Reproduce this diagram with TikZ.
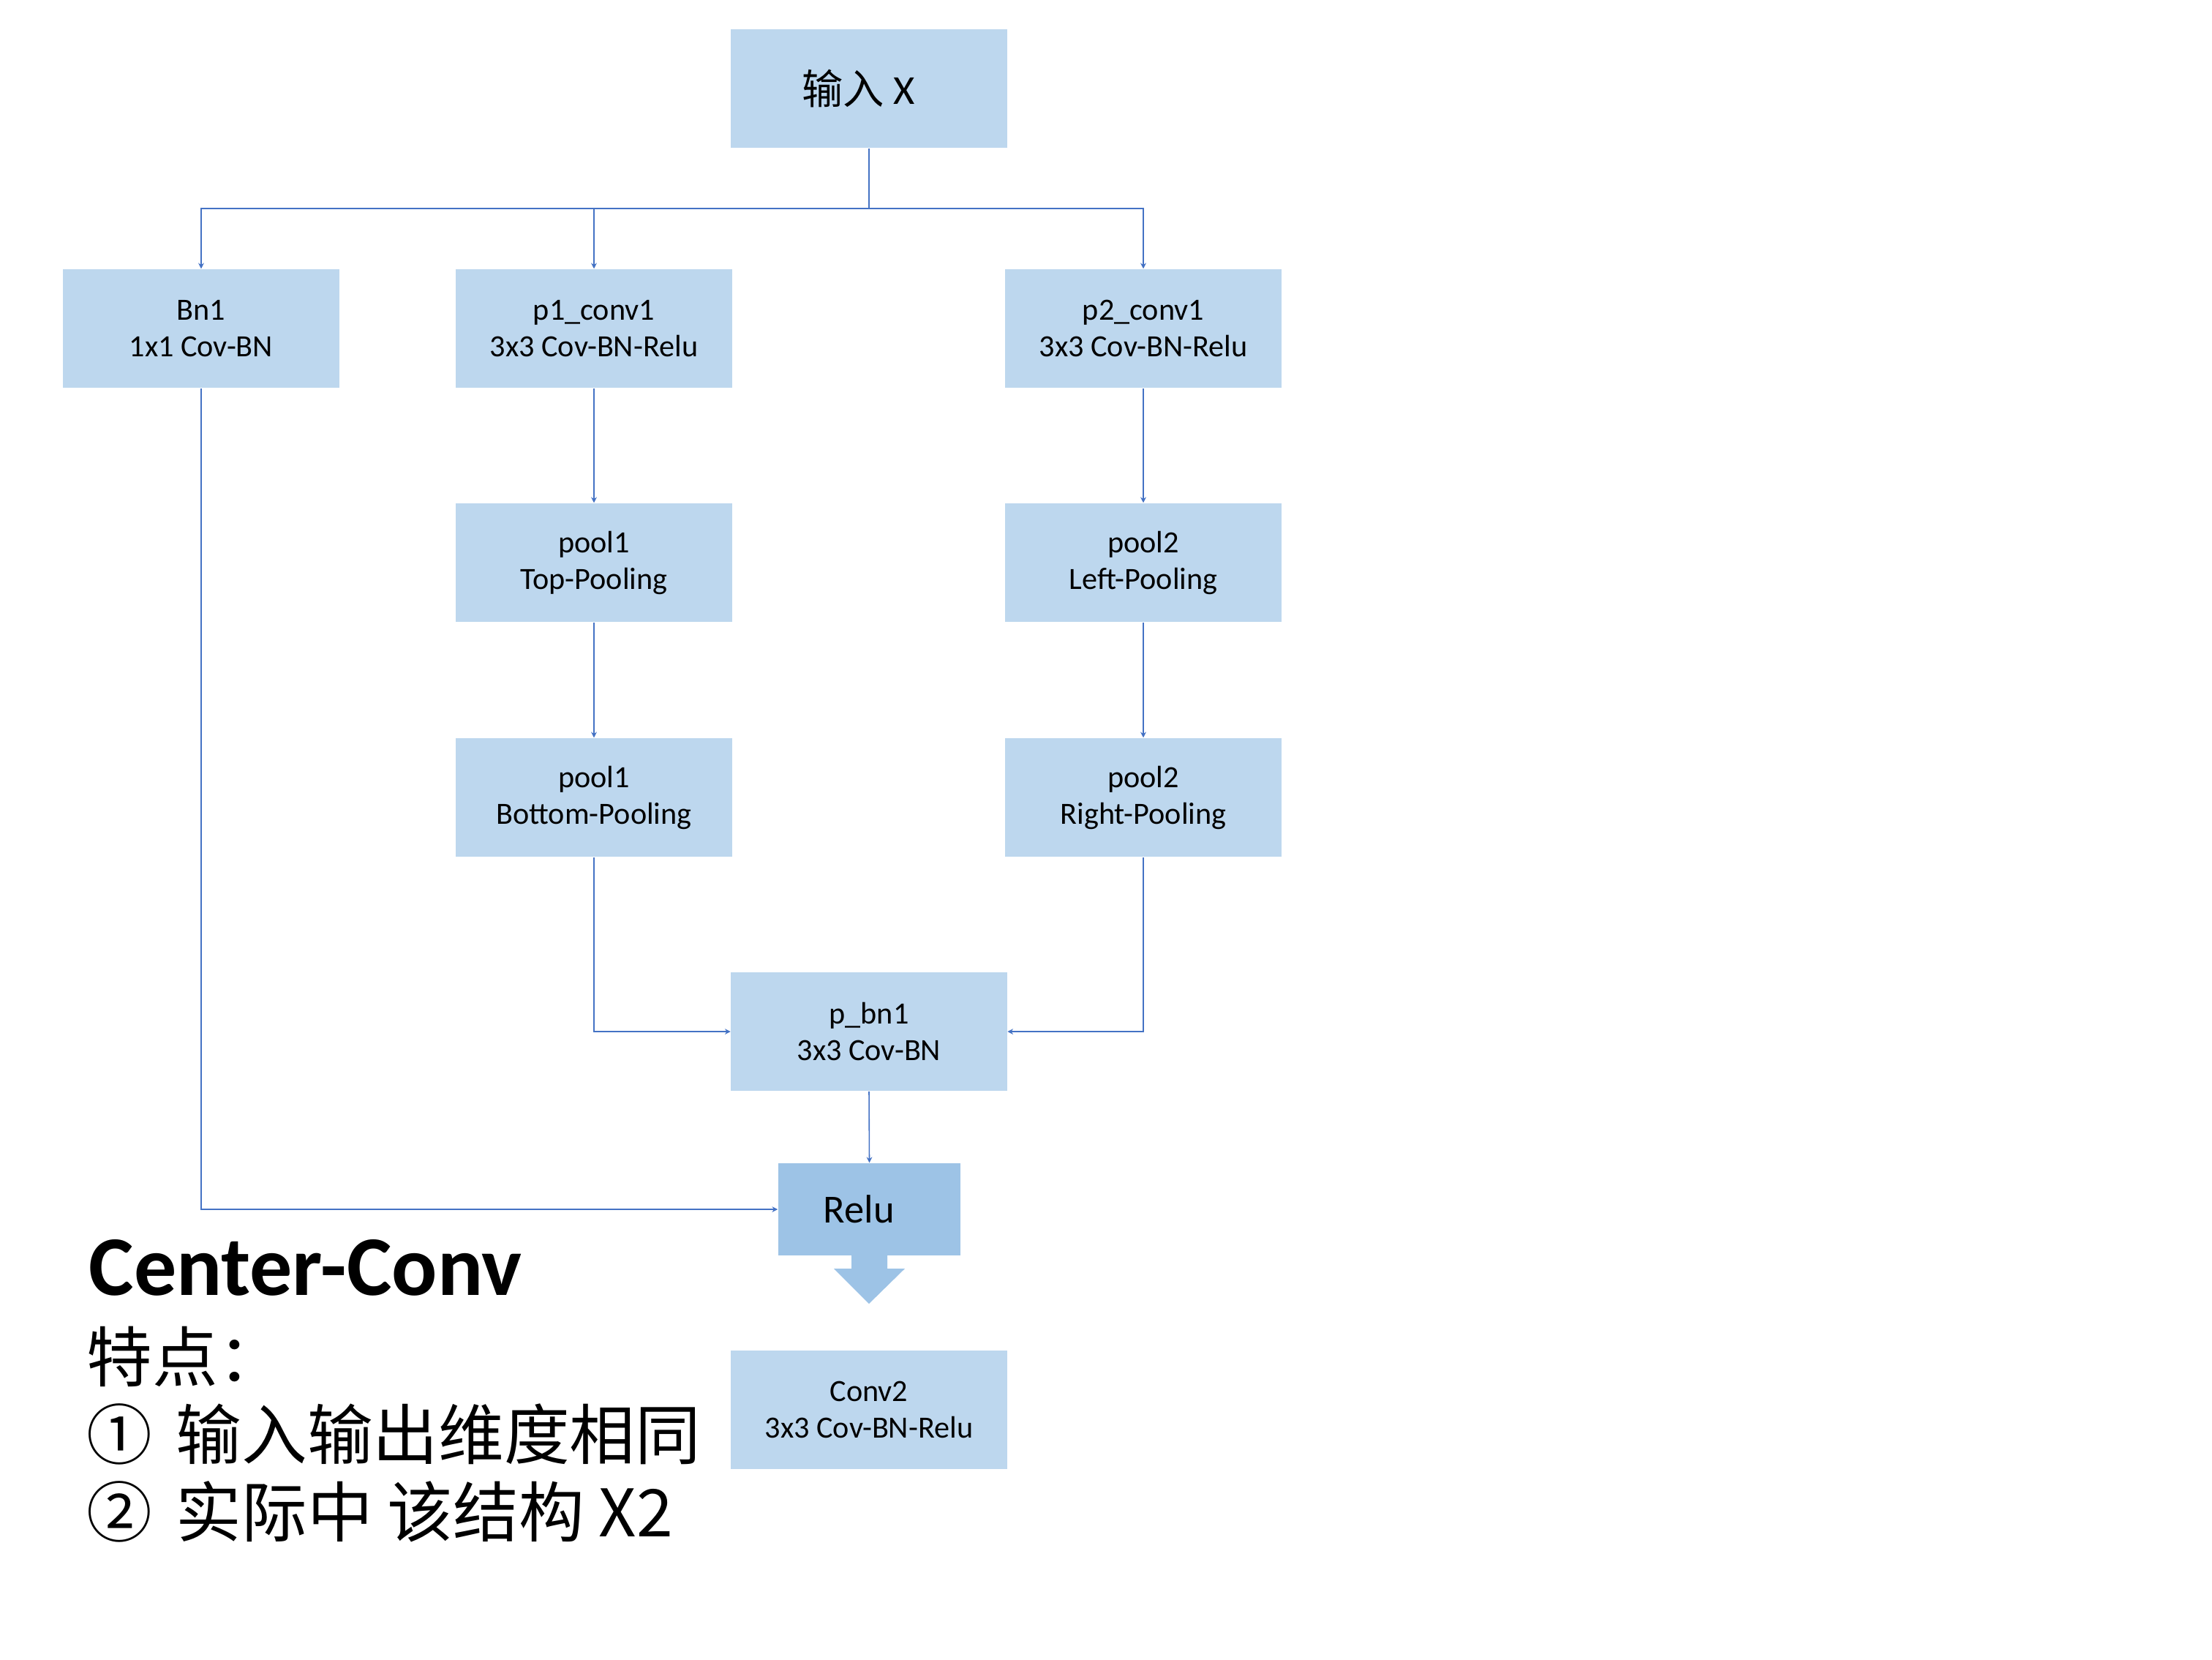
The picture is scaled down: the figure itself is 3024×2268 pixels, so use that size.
\documentclass[tikz,border=0pt]{standalone}
\usepackage{fontspec}
\usetikzlibrary{arrows.meta}
\setmainfont{Carlito}
\newfontfamily\cjk{Noto Sans CJK SC}
\definecolor{boxblue}{HTML}{BDD7EE}
\definecolor{relublue}{HTML}{9DC3E6}
\definecolor{linkblue}{HTML}{4472C4}
\begin{document}
\begin{tikzpicture}[x=0.01cm,y=-0.01cm,
  blk/.style={fill=boxblue,minimum width=3.77cm,minimum height=1.62cm,inner sep=0pt,align=center,font=\fontsize{12}{14.2}\selectfont},
  link/.style={draw=linkblue,line width=0.45pt},
  arr/.style={link,-{Stealth[length=2.2pt,width=2.2pt]}},
  note/.style={anchor=base west,inner sep=0pt,font=\fontsize{25.5}{30}\selectfont\cjk}]
\useasboundingbox (0,0) rectangle (3024,2268);
\node[blk,font=\fontsize{16}{19}\selectfont] (in) at (1188,121) {{\cjk 输入} X\hspace{8pt}};
\node[blk] (bn1) at (275,449) {Bn1\\1x1 Cov-BN};
\node[blk] (p1c) at (812,449) {p1\_conv1\\3x3 Cov-BN-Relu};
\node[blk] (p2c) at (1563,449) {p2\_conv1\\3x3 Cov-BN-Relu};
\node[blk] (pool1) at (812,769) {pool1\\Top-Pooling};
\node[blk] (pool2) at (1563,769) {pool2\\Left-Pooling};
\node[blk] (pool1b) at (812,1090) {pool1\\Bottom-Pooling};
\node[blk] (pool2b) at (1563,1090) {pool2\\Right-Pooling};
\node[blk] (pbn) at (1188,1410) {p\_bn1\\3x3 Cov-BN};
\node[blk,fill=relublue,minimum width=2.49cm,minimum height=1.26cm,font=\fontsize{15.5}{18}\selectfont] (relu) at (1188.5,1653) {Relu\hspace{8pt}};
\node[blk] (conv2) at (1188,1927) {Conv2\\3x3 Cov-BN-Relu};
\fill[relublue] (1164,1715) -- (1213,1715) -- (1213,1734) -- (1237,1734) -- (1188,1782) -- (1140,1734) -- (1164,1734) -- cycle;
\coordinate (split) at (1188,285);
\draw[link] (in.south) -- (split);
\draw[arr] (split) -| (bn1.north);
\draw[arr] (split) -| (p1c.north);
\draw[arr] (split) -| (p2c.north);
\draw[arr] (p1c) -- (pool1);
\draw[arr] (pool1) -- (pool1b);
\draw[arr] (p2c) -- (pool2);
\draw[arr] (pool2) -- (pool2b);
\draw[arr] (pool1b.south) |- (pbn.west);
\draw[arr] (pool2b.south) |- (pbn.east);
\draw[arr] (pbn.south) -- (relu.north);
\draw[arr] (bn1.south) |- (relu.west);
\node[anchor=base west,inner sep=0pt,font=\fontsize{33}{36}\selectfont\bfseries] (title) at (121,1770) {Center-Conv};
\node[note] (l1) at (118,1888) {特点：};
\node[note] (l2) at (118,1994) {①\hspace{3.5pt} 输入输出维度相同};
\node[note] (l3) at (118,2100) {②\hspace{3.5pt} 实际中 该结构 X2};
\end{tikzpicture}
\end{document}
